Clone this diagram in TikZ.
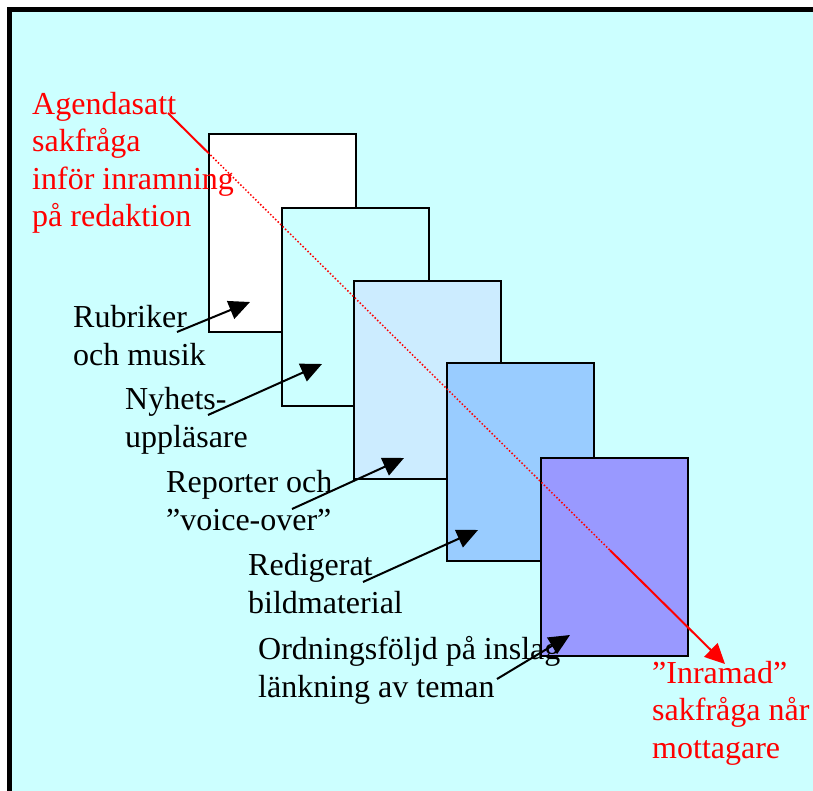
\documentclass[tikz,border=0pt]{standalone}
\usepackage{fontspec}
\setmainfont{Liberation Serif}
\usetikzlibrary{arrows.meta,calc}
\definecolor{bg}{HTML}{CCFFFF}
\definecolor{cA}{HTML}{FFFFFF}
\definecolor{cB}{HTML}{CCFFFF}
\definecolor{cC}{HTML}{CCECFF}
\definecolor{cD}{HTML}{99CCFF}
\definecolor{cE}{HTML}{9999FF}
\definecolor{redl}{HTML}{FF0000}
\tikzset{
  card/.style={draw=black, line width=2pt, minimum width=147pt, minimum height=198pt, anchor=north west, inner sep=0pt},
  lbl/.style={font=\fontsize{32}{37.5}\selectfont, align=left, inner sep=0pt, anchor=base west},
  redlbl/.style={lbl, text=redl},
  pointer/.style={line width=2pt, -{Triangle[length=21pt,width=19pt]}},
  redline/.style={draw=redl, line width=2pt},
  reddots/.style={draw=redl, line width=1.5pt, dash pattern=on 1.5pt off 2pt},
}
\begin{document}
\begin{tikzpicture}[x=1pt,y=-1pt]
\useasboundingbox (0,0) rectangle (813,791);
\fill[white] (0,0) rectangle (813,791);
\draw[line width=5pt, fill=bg] (9.5,9.5) rectangle (840,820);

% cards
\node[card, fill=cA] (b1) at (208,133) {};
\node[card, fill=cB] (b2) at (281,207) {};
\node[card, fill=cC] (b3) at (353,280) {};
\node[card, fill=cD] (b4) at (446,362) {};
\node[card, fill=cE] (b5) at (540,457) {};

% black labels (anchor = baseline of last line)
\node[lbl] (t1) at (73,365) {Rubriker\\och musik};
\node[lbl] (t2) at (125,447) {Nyhets-\\uppläsare};
\node[lbl] (t3) at (166,530) {Reporter och\\”voice-over”};
\node[lbl] (t4) at (248,613) {Redigerat\\bildmaterial};
\node[lbl] (t5) at (258,697) {Ordningsföljd på inslag\\länkning av teman};

% red labels
\node[redlbl] (r1) at (32,227) {Agendasatt\\sakfråga\\inför inramning\\på redaktion};
\node[redlbl] (r2) at (652,758) {”Inramad”\\sakfråga når\\mottagare};

% pointers
\coordinate (p1s) at (177,332); \coordinate (p1e) at (250,302);
\coordinate (p2s) at (208,415); \coordinate (p2e) at (322,364);
\coordinate (p3s) at (292,509); \coordinate (p3e) at (404,458);
\coordinate (p4s) at (363,582); \coordinate (p4e) at (478,530);
\coordinate (p5s) at (497,679); \coordinate (p5e) at (570,635);
\draw[pointer] (p1s) -- (p1e);
\draw[pointer] (p2s) -- (p2e);
\draw[pointer] (p3s) -- (p3e);
\draw[pointer] (p4s) -- (p4e);
\draw[pointer] (p5s) -- (p5e);

% red framing line
\coordinate (rs) at (168,113);
\coordinate (re) at (725,664);
\coordinate (ra) at ($(rs)!0.0718!(re)$);
\coordinate (rb) at ($(rs)!0.7935!(re)$);
\draw[redline] (rs) -- (ra);
\draw[reddots] (ra) -- (rb);
\draw[redline, -{Triangle[length=20pt,width=19pt]}] (rb) -- (re);
\end{tikzpicture}
\end{document}
